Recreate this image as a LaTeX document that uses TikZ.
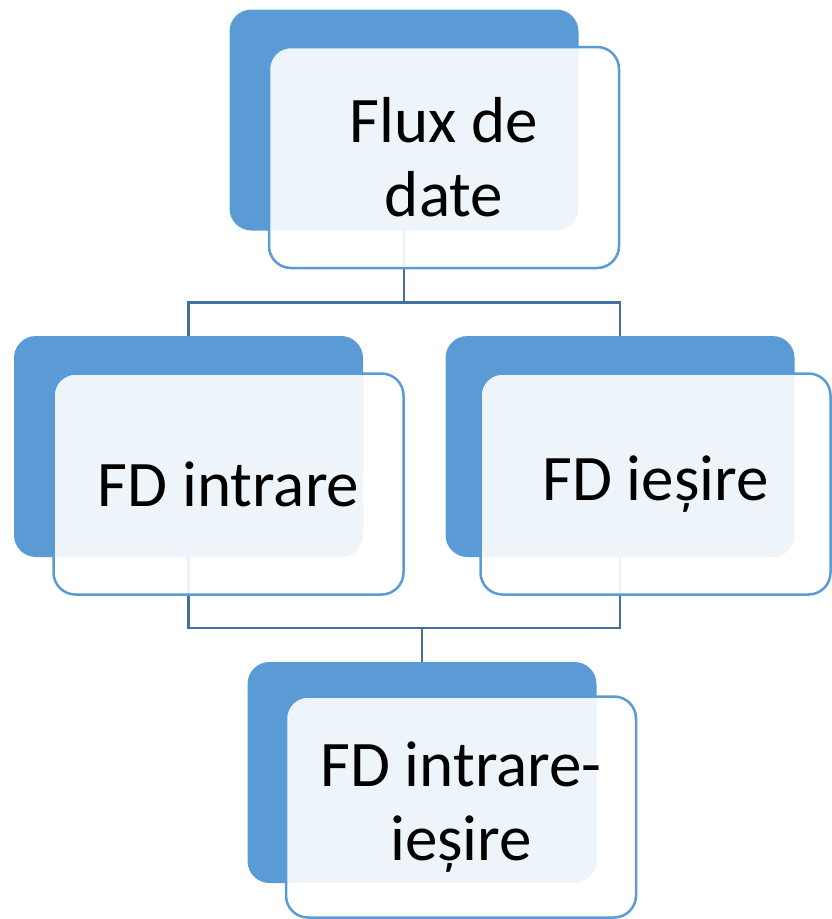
\documentclass[tikz,border=0pt]{standalone}
\usepackage{fontspec}
\setmainfont{Carlito}
\definecolor{boxblue}{HTML}{5B9BD5}
\definecolor{linkblue}{HTML}{41719C}

\begin{document}
\begin{tikzpicture}[x=1pt,y=-1pt]
       \tikzstyle{back} = [rectangle, rounded corners=22pt, fill=boxblue, minimum width=349pt, minimum height=221pt, inner sep=0pt];
       \tikzstyle{front} = [rectangle, rounded corners=22pt, draw=boxblue, line width=2.5pt, fill=white, fill opacity=0.9, text opacity=1, minimum width=350pt, minimum height=221pt, inner sep=0pt, align=center, font=\fontsize{65}{74}\selectfont];
       \tikzstyle{link} = [draw=linkblue, line width=2.5pt];

       \useasboundingbox (0,0) rectangle (831,919);

       \node[back] (fluxback) at (404,120) {};
       \node[back] (inback) at (188.5,446.5) {};
       \node[back] (outback) at (620,446.5) {};
       \node[back] (ioback) at (422,772.5) {};

       % connectors sit under the front boxes
       \draw[link] (fluxback.south) -- ++(0,72) coordinate (topsplit);
       \draw[link] (inback.north) |- (topsplit) -| (outback.north);
       \draw[link] (inback.south) -- ++(0,71) coordinate (bottomsplit) -| (outback.south);
       \draw[link] (ioback.north) |- (bottomsplit);

       \node[front] (flux) at (444,157.5) {Flux de\\date};
       \node[front] (in) at (228.5,484) {FD intrare};
       \node[front] (out) at (655.5,484) {FD ieșire};
       \node[front] (io) at (461,807) {FD intrare-\\ieșire};
\end{tikzpicture}
\end{document}
